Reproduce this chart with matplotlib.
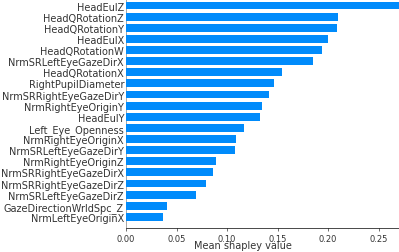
import numpy as np
import matplotlib.pyplot as plt

# feature names, bottom to top
features = [
    "NrmLeftEyeOriginX", "GazeDirectionWrldSpc_Z", "NrmSRLeftEyeGazeDirZ",
    "NrmSRRightEyeGazeDirZ", "NrmSRRightEyeGazeDirX", "NrmRightEyeOriginZ",
    "NrmSRLeftEyeGazeDirY", "NrmRightEyeOriginX", "Left_Eye_Openness",
    "HeadEulY", "NrmRightEyeOriginY", "NrmSRRightEyeGazeDirY",
    "RightPupilDiameter", "HeadQRotationX", "NrmSRLeftEyeGazeDirX",
    "HeadQRotationW", "HeadEulX", "HeadQRotationY", "HeadQRotationZ", "HeadEulZ",
]
mean_shap = [
    0.037, 0.041, 0.069, 0.079, 0.086, 0.089, 0.108, 0.109, 0.117, 0.133,
    0.135, 0.142, 0.147, 0.154, 0.185, 0.194, 0.200, 0.209, 0.210, 0.290,
]
xticks = [0.00, 0.05, 0.10, 0.15, 0.20, 0.25]

axis_color = "#333333"
blue = (0.0, 0.54337757, 0.98337906)

fig = plt.figure(figsize=(3.99, 2.53), dpi=100)
xmax = 0.30
ax = fig.add_axes([126 / 399, 24 / 253, xmax * 1010 / 399, 233.6 / 253])

y_pos = np.arange(len(features))
ax.axvline(0, color="#999999", zorder=-1, lw=0.6)
ax.barh(y_pos, mean_shap, 0.7, align="center", color=blue)

ax.set_xlim(0, xmax)
ax.set_ylim(-1, len(features))
ax.set_yticks(y_pos)
ax.set_yticklabels(features, fontsize=7)
ax.set_xticks(xticks)
ax.set_xticklabels([f"{t:.2f}" for t in xticks])

for s in ["right", "top", "left"]:
    ax.spines[s].set_visible(False)
ax.spines["bottom"].set_linewidth(0.5)
ax.xaxis.set_ticks_position("bottom")
ax.tick_params(color=axis_color, labelcolor=axis_color)
ax.tick_params("y", length=0, pad=1.4)
ax.tick_params("x", labelsize=6, length=2, pad=2, width=0.5)

ax.set_xlabel("Mean shapley value", fontsize=7, color=axis_color, va="top")
ax.xaxis.set_label_coords((243 - 126) / (xmax * 1010), -0.05)

fig.savefig("out.png", dpi=100)
